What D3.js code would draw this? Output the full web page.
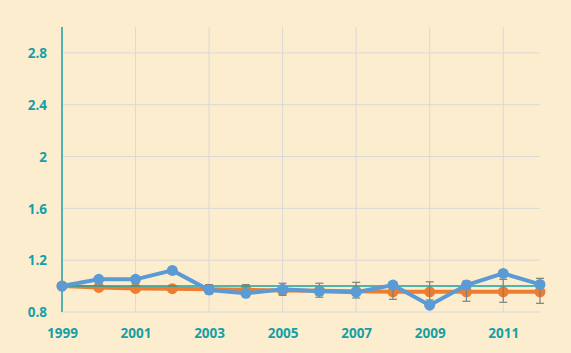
<!DOCTYPE html>
<html>
<head>
<meta charset="utf-8">
<script src="https://cdn.jsdelivr.net/npm/d3@7"></script>
<style>
  html, body { margin: 0; padding: 0; background: #fdedcf; }
  svg { display: block; }
  .tick text { font-family: "Open Sans", sans-serif; font-weight: 700; font-size: 13.5px; fill: #14a0a6; }
</style>
</head>
<body>
<script>
var w = 571;
var h = 353;

var years = [1999,2000,2001,2002,2003,2004,2005,2006,2007,2008,2009,2010,2011,2012];
var blueVals = [1.0,1.052,1.052,1.121,0.97,0.944,0.975,0.96,0.953,1.008,0.853,1.008,1.098,1.013];
var orangeVals = [1.0,0.99,0.982,0.98,0.975,0.972,0.966,0.964,0.96,0.956,0.956,0.956,0.956,0.956];
var errYears = [2003,2004,2005,2006,2007,2008,2009,2010,2011,2012];
var errHigh = [1.011,1.011,1.022,1.022,1.029,1.033,1.033,1.039,1.052,1.06];
var errLow = [0.94,0.93,0.929,0.914,0.908,0.898,0.893,0.883,0.875,0.867];
var refValue = 1.0;
var xTicks = [1999,2001,2003,2005,2007,2009,2011];
var yTicks = [0.8,1.2,1.6,2,2.4,2.8];

var x = d3.scaleLinear().domain([1999, 2012]).range([62, 540]);
var y = d3.scaleLinear().domain([0.8, 3.0]).range([312, 27]);

var svg = d3.select("body").append("svg")
    .attr("width", w)
    .attr("height", h);

// grid
svg.append("g")
    .selectAll("line")
    .data(yTicks)
    .enter().append("line")
    .attr("x1", x(1999)).attr("x2", x(2012))
    .attr("y1", function(d){ return y(d); })
    .attr("y2", function(d){ return y(d); })
    .attr("stroke", "#d9d9d6").attr("stroke-width", 1);

svg.append("g")
    .selectAll("line")
    .data(xTicks.slice(1))
    .enter().append("line")
    .attr("x1", function(d){ return x(d); })
    .attr("x2", function(d){ return x(d); })
    .attr("y1", y(3.0)).attr("y2", y(0.8))
    .attr("stroke", "#d9d9d6").attr("stroke-width", 1);

// axes (labels only)
var yAxis = d3.axisLeft(y).tickValues(yTicks).tickSize(0).tickPadding(15)
    .tickFormat(function(d){ return String(d); });
var gy = svg.append("g").attr("transform", "translate(" + x(1999) + ",0)").call(yAxis);
gy.select(".domain").remove();
gy.selectAll(".tick text").attr("dy", "0.35em");

var xAxis = d3.axisBottom(x).tickValues(xTicks).tickSize(0).tickPadding(16)
    .tickFormat(d3.format("d"));
var gx = svg.append("g").attr("transform", "translate(0," + y(0.8) + ")").call(xAxis);
gx.select(".domain").remove();

// y axis line
svg.append("line")
    .attr("x1", x(1999)).attr("x2", x(1999))
    .attr("y1", y(3.0)).attr("y2", y(0.8))
    .attr("stroke", "#1a9ea6").attr("stroke-width", 1.5);

var line = d3.line()
    .x(function(d, i){ return x(years[i]); })
    .y(function(d){ return y(d); });

// orange series
svg.append("path")
    .datum(orangeVals)
    .attr("d", line)
    .attr("fill", "none")
    .attr("stroke", "#ed7d31")
    .attr("stroke-width", 4);

svg.append("g").selectAll("circle")
    .data(orangeVals)
    .enter().append("circle")
    .attr("cx", function(d, i){ return x(years[i]); })
    .attr("cy", function(d){ return y(d); })
    .attr("r", 5.5)
    .attr("fill", "#ed7d31");

// reference line
svg.append("line")
    .attr("x1", x(1999)).attr("x2", x(2012))
    .attr("y1", y(refValue)).attr("y2", y(refValue))
    .attr("stroke", "#14a3a0").attr("stroke-width", 1.5);

// error bars
var eb = svg.append("g").attr("stroke", "#7f7f7f").attr("stroke-width", 1.2);
errYears.forEach(function(yr, i){
    var cx = x(yr);
    eb.append("line").attr("x1", cx).attr("x2", cx)
        .attr("y1", y(errHigh[i])).attr("y2", y(errLow[i]));
    eb.append("line").attr("x1", cx - 4).attr("x2", cx + 4)
        .attr("y1", y(errHigh[i])).attr("y2", y(errHigh[i]));
    eb.append("line").attr("x1", cx - 4).attr("x2", cx + 4)
        .attr("y1", y(errLow[i])).attr("y2", y(errLow[i]));
});

// blue series
svg.append("path")
    .datum(blueVals)
    .attr("d", line)
    .attr("fill", "none")
    .attr("stroke", "#5b9bd5")
    .attr("stroke-width", 4);

svg.append("g").selectAll("circle")
    .data(blueVals)
    .enter().append("circle")
    .attr("cx", function(d, i){ return x(years[i]); })
    .attr("cy", function(d){ return y(d); })
    .attr("r", 5.5)
    .attr("fill", "#5b9bd5");
</script>
</body>
</html>
